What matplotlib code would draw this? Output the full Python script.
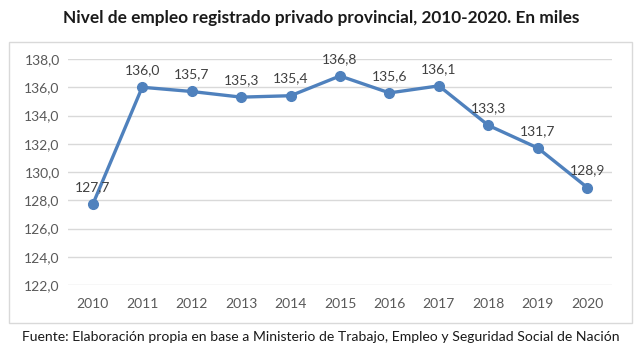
import matplotlib.pyplot as plt
from matplotlib.patches import FancyBboxPatch

plt.rcParams['font.family'] = ['Lato', 'DejaVu Sans']

years = ['2010', '2011', '2012', '2013', '2014', '2015', '2016', '2017', '2018', '2019', '2020']
empleo = [127.7, 136.0, 135.7, 135.3, 135.4, 136.8, 135.6, 136.1, 133.3, 131.7, 128.9]
yticks = [122, 124, 126, 128, 130, 132, 134, 136, 138]

fig = plt.figure(figsize=(6.42, 3.61), dpi=100)

# outer chart frame, like the excel chart area
frame = FancyBboxPatch((9 / 642, 1 - 323 / 361), 623 / 642, 281 / 361,
                       boxstyle='square,pad=0', transform=fig.transFigure,
                       facecolor='white', edgecolor='#d9d9d9', linewidth=1.0,
                       zorder=-1)
fig.patches.append(frame)

ax = fig.add_axes([68 / 642, 1 - 285 / 361, 544 / 642, 226 / 361])
ax.set_zorder(2)
x = list(range(len(years)))
ax.plot(x, empleo, color='#4f81bd', linewidth=2.4, marker='o', markersize=7,
        markerfacecolor='#4f81bd', markeredgecolor='#4f81bd', zorder=3)

for xi, v in zip(x, empleo):
    ax.annotate(f'{v:.1f}'.replace('.', ','), (xi, v), xytext=(0, 8),
                textcoords='offset points', ha='center', va='bottom',
                fontsize=10, color='#404040')

ax.set_xlim(-0.5, len(years) - 0.5)
ax.set_ylim(122, 138)
ax.set_xticks(x)
ax.set_xticklabels(years)
ax.set_yticks(yticks)
ax.set_yticklabels([f'{t:.1f}'.replace('.', ',') for t in yticks])
ax.tick_params(length=0, labelsize=10, labelcolor='#595959', pad=6)
ax.tick_params(axis='x', pad=9)
ax.grid(axis='y', color='#d9d9d9', linewidth=1.0)
ax.set_axisbelow(True)
for s in ax.spines.values():
    s.set_visible(False)
ax.patch.set_alpha(0)

fig.text(0.5, 1 - 18 / 361, 'Nivel de empleo registrado privado provincial, 2010-2020. En miles',
         ha='center', va='center', fontsize=12.4, fontweight='bold', color='#1a1a1a')
fig.text(0.5, 1 - 337 / 361,
         'Fuente: Elaboración propia en base a Ministerio de Trabajo, Empleo y Seguridad Social de Nación',
         ha='center', va='center', fontsize=10.1, color='#1a1a1a')

fig.savefig('out.png', dpi=100)
